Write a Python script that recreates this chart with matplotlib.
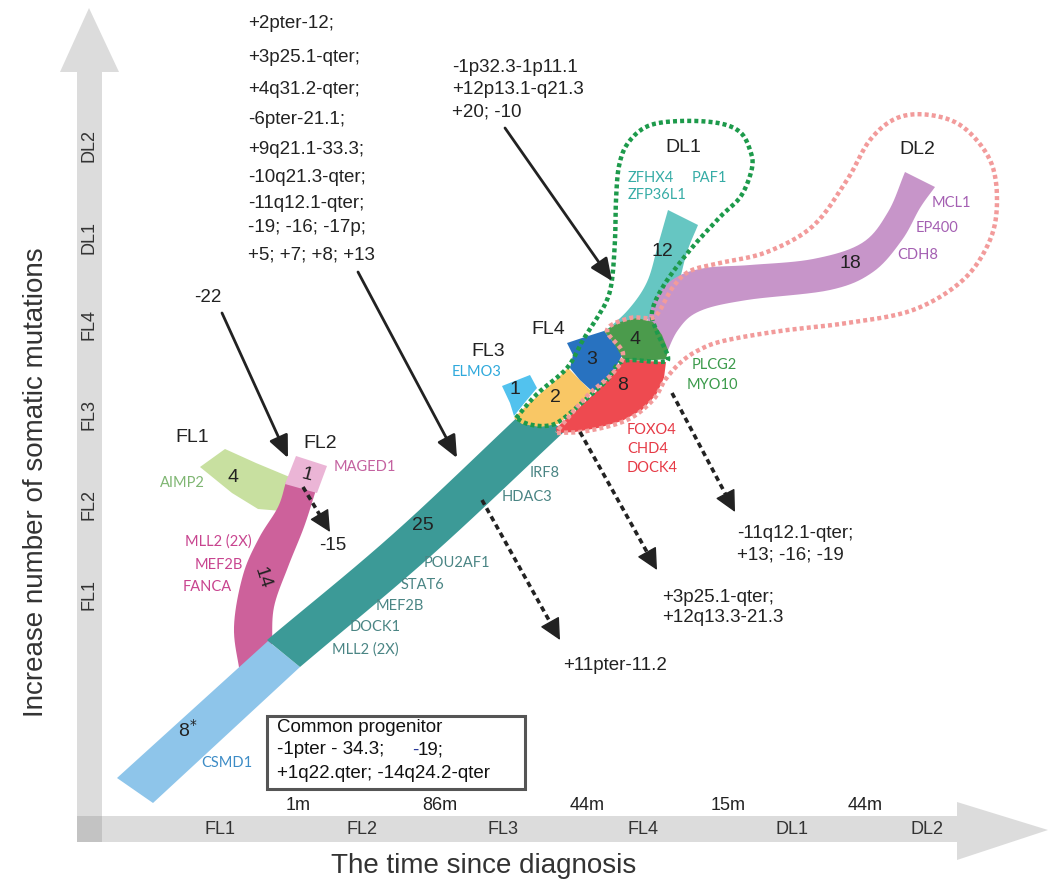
import numpy as np
import matplotlib.pyplot as plt
from matplotlib.patches import Polygon, Rectangle

plt.rcParams['font.family'] = ['Liberation Sans', 'DejaVu Sans']

# biopsy stages and the months between them
stages = ['FL1', 'FL2', 'FL3', 'FL4', 'DL1', 'DL2']
intervals = ['1m', '86m', '44m', '15m', '44m']

# private somatic mutations per branch
n_root = '8$^{*}$'
n_fl1 = '4'
n_fl2_root = '14'
n_fl2 = '1'
n_shared = '25'
n_fl3 = '1'
n_fl34 = '2'
n_fl4 = '3'
n_dl = '4'
n_dl_red = '8'
n_dl1 = '12'
n_dl2 = '18'

# mutated genes per branch
genes_root = ['CSMD1']
genes_fl1 = ['AIMP2']
genes_fl2_root = ['MLL2 (2X)', 'MEF2B', 'FANCA']
genes_fl2 = ['MAGED1']
genes_shared = ['POU2AF1', 'STAT6', 'MEF2B', 'DOCK1', 'MLL2 (2X)']
genes_late = ['IRF8', 'HDAC3']
genes_fl3 = ['ELMO3']
genes_dl = ['PLCG2', 'MYO10']
genes_dl_red = ['FOXO4', 'CHD4', 'DOCK4']
genes_dl1 = ['ZFHX4', 'PAF1', 'ZFP36L1']
genes_dl2 = ['MCL1', 'EP400', 'CDH8']

# copy-number changes
cna_progenitor = ['Common progenitor', '-1pter - 34.3;', '-', '19;', '+1q22.qter; -14q24.2-qter']
cna_fl2 = '-22'
cna_fl2_loss = '-15'
cna_shared = ['+2pter-12;', '+3p25.1-qter;', '+4q31.2-qter;', '-6pter-21.1;',
              '+9q21.1-33.3;', '-10q21.3-qter;', '-11q12.1-qter;',
              '-19; -16; -17p;', '+5; +7; +8; +13']
cna_dl1 = ['-1p32.3-1p11.1', '+12p13.1-q21.3', '+20; -10']
cna_late = ['+11pter-11.2']
cna_dl_red = ['+3p25.1-qter;', '+12q13.3-21.3']
cna_dl = ['-11q12.1-qter;', '+13; -16; -19']


def smooth(pts, n=10):
    # Catmull-Rom through the given points, open curve
    p = np.asarray(pts, float)
    p = np.vstack([2 * p[0] - p[1], p, 2 * p[-1] - p[-2]])
    out = []
    for i in range(1, len(p) - 2):
        p0, p1, p2, p3 = p[i - 1], p[i], p[i + 1], p[i + 2]
        for t in np.linspace(0, 1, n, endpoint=False):
            out.append(0.5 * (2 * p1 + (-p0 + p2) * t
                              + (2 * p0 - 5 * p1 + 4 * p2 - p3) * t * t
                              + (-p0 + 3 * p1 - 3 * p2 + p3) * t ** 3))
    out.append(p[-2])
    return np.array(out)


def ribbon(left, right, color, z):
    poly = np.vstack([smooth(left), smooth(right)[::-1]])
    ax.add_patch(Polygon(poly, closed=True, fc=color, ec='none', zorder=z))


def patch(pts, color, z):
    ax.add_patch(Polygon(pts, closed=True, fc=color, ec='none', zorder=z))


def dotted(pts, color):
    c = smooth(pts, n=8)
    ax.plot(c[:, 0], c[:, 1], color=color, lw=3.2, ls=(0, (0.9, 0.7)),
            solid_capstyle='butt', zorder=7)


def arrow(start, tip, dashed=False):
    start, tip = np.array(start, float), np.array(tip, float)
    u = (tip - start) / np.hypot(*(tip - start))
    if dashed:
        end = tip - u * 14
        ax.plot([start[0], end[0]], [start[1], end[1]], color='#222222', lw=2.6,
                ls=(0, (1.5, 1.1)), zorder=8)
        ax.annotate('', xy=tip, xytext=tip - u * 16,
                    arrowprops=dict(arrowstyle='-|>,head_length=0.9,head_width=0.45',
                                    mutation_scale=15, color='#222222', lw=1,
                                    shrinkA=0, shrinkB=0), zorder=8)
    else:
        ax.annotate('', xy=tip, xytext=start,
                    arrowprops=dict(arrowstyle='-|>,head_length=0.9,head_width=0.4',
                                    mutation_scale=15, color='#222222', lw=2,
                                    shrinkA=0, shrinkB=0), zorder=8)


fig = plt.figure(figsize=(10.52, 8.89), dpi=100)
ax = fig.add_axes([0, 0, 1, 1])
ax.set_xlim(0, 1052)
ax.set_ylim(889, 0)
ax.axis('off')

# axis arrows
axis_grey = '#dcdcdc'
ax.add_patch(Rectangle((77, 70), 25, 772, fc=axis_grey, ec='none', zorder=1))
patch([(60, 72), (119, 72), (89, 8)], axis_grey, 1)
ax.add_patch(Rectangle((77, 816), 880, 26, fc=axis_grey, ec='none', zorder=1))
patch([(957, 802), (957, 860), (1048, 830)], axis_grey, 1)
ax.add_patch(Rectangle((77, 816), 25, 26, fc='#c3c3c3', ec='none', zorder=1))

stage_x = [220, 362, 503, 643, 792, 927]
for s, x in zip(stages, stage_x):
    ax.text(x, 830, s, ha='center', va='center', fontsize=13, color='#333333', zorder=2)
interval_x = [298, 440, 587, 728, 865]
for s, x in zip(intervals, interval_x):
    ax.text(x, 806, s, ha='center', va='center', fontsize=13, color='#222222', zorder=2)
stage_y = [595, 505, 415, 325, 237, 145]
for s, y in zip(stages, stage_y):
    ax.text(89, y, s, ha='center', va='center', rotation=90, fontsize=13,
            color='#333333', zorder=2)

ax.text(484, 866, 'The time since diagnosis', ha='center', va='center',
        fontsize=20, color='#333333')
ax.text(36, 482, 'Increase number of somatic mutations', ha='center', va='center',
        rotation=90, fontsize=20, color='#333333')

# FL1 / FL2 branch
patch([(200, 467), (225, 449), (256, 463), (292, 478), (282, 511), (258, 509), (232, 493)],
      '#c8e0a0', 2)
ribbon([(240, 674), (234, 627), (243, 575), (259, 538), (278, 507), (286, 482)],
       [(272, 645), (274, 607), (288, 567), (304, 527), (316, 490)], '#cd619b', 3)
patch([(296, 456), (327, 466), (317, 493), (285, 484)], '#ebb5d6', 3)

# common trunk and the FL3 / FL4 / DL lineage
patch([(117, 778), (268, 641), (300, 667), (153, 803)], '#8ec5ea', 4)
ribbon([(267, 640), (393, 534), (525, 410)], [(300, 667), (432, 555), (566, 430)],
       '#3c9a97', 4)
ribbon([(603, 333), (628, 310), (647, 282), (658, 245), (668, 210)],
       [(640, 322), (660, 313), (677, 287), (687, 252), (698, 225)], '#66c6c2', 3)
ribbon([(645, 330), (655, 300), (675, 278), (705, 268), (750, 265), (813, 259),
        (862, 243), (888, 212), (905, 172)],
       [(663, 362), (678, 330), (700, 311), (747, 300), (830, 290), (873, 272),
        (902, 240), (920, 208), (935, 187)], '#c795c9', 3)
patch([(502, 386), (530, 375), (537, 388), (526, 401), (514, 416), (510, 403)], '#52c2ee', 3)
patch([(514, 418), (525, 407), (540, 394), (556, 380), (568, 368), (580, 380), (592, 392),
       (575, 410), (558, 424), (540, 427), (522, 424)], '#f9c765', 5)
patch([(567, 343), (585, 337), (604, 331), (614, 343), (623, 354), (612, 374), (602, 384),
       (593, 392), (580, 380), (570, 368), (573, 355)], '#2872c0', 5)
patch([(623, 359), (645, 361), (666, 362), (664, 378), (656, 395), (642, 410), (622, 421),
       (598, 428), (575, 432), (557, 433), (556, 428), (570, 416), (585, 402), (598, 390),
       (612, 375)], '#ee4a50', 5)
patch([(604, 331), (620, 322), (637, 318), (653, 322), (662, 335), (668, 350), (666, 359),
       (645, 361), (623, 359), (614, 343)], '#4b9b4c', 6)

# DL1 and DL2 clone envelopes
dotted([(516, 418), (537, 394), (567, 368), (583, 340), (597, 318), (607, 300), (612, 280),
        (615, 240), (616, 200), (619, 166), (628, 143), (648, 126), (680, 121), (718, 123),
        (740, 132), (750, 150), (752, 168), (741, 196), (720, 217), (690, 250), (664, 285),
        (652, 312), (657, 332), (668, 357), (660, 362), (623, 361), (607, 380), (585, 400),
        (560, 421), (545, 426), (528, 424), (516, 418)], '#1d9a4b')
dotted([(557, 433), (587, 431), (627, 420), (653, 400), (665, 380), (680, 363), (697, 351),
        (723, 341), (780, 331), (847, 323), (913, 310), (963, 280), (990, 240), (997, 200),
        (990, 160), (963, 127), (930, 115), (897, 118), (870, 140), (847, 180), (813, 226),
        (767, 252), (720, 263), (690, 271), (673, 287), (660, 310), (652, 318), (630, 318),
        (607, 330), (623, 353), (613, 373), (588, 395), (562, 425), (557, 433)], '#f29b9b')

# branch sizes
num_kw = dict(ha='center', va='center', fontsize=14, color='#222222', zorder=9)
ax.text(188, 730, n_root, **num_kw)
ax.text(233, 477, n_fl1, **num_kw)
ax.text(262, 578, n_fl2_root, rotation=-72, **num_kw)
ax.text(307, 475, n_fl2, rotation=-15, **num_kw)
ax.text(423, 525, n_shared, **num_kw)
ax.text(515, 390, n_fl3, **num_kw)
ax.text(555, 397, n_fl34, **num_kw)
ax.text(592, 360, n_fl4, **num_kw)
ax.text(635, 340, n_dl, **num_kw)
ax.text(623, 385, n_dl_red, **num_kw)
ax.text(662, 252, n_dl1, **num_kw)
ax.text(850, 263, n_dl2, **num_kw)

# sample names
lab_kw = dict(ha='center', va='center', fontsize=14, color='#222222', zorder=9)
ax.text(192, 437, stages[0], **lab_kw)
ax.text(320, 443, stages[1], **lab_kw)
ax.text(488, 352, stages[2], **lab_kw)
ax.text(548, 330, stages[3], **lab_kw)
ax.text(683, 147, stages[4], **lab_kw)
ax.text(917, 150, stages[5], **lab_kw)

# gene names
gene_font = ['Lato', 'DejaVu Sans']


def gene(x, y, name, color, ha='center'):
    ax.text(x, y, name, ha=ha, va='center', fontsize=10.5, color=color,
            family=gene_font, zorder=9)


gene(227, 763, genes_root[0], '#3d8cc6')
gene(182, 483, genes_fl1[0], '#7fb672')
for g, (x, y) in zip(genes_fl2_root, [(252, 542), (243, 565), (232, 587)]):
    gene(x, y, g, '#c8448f', ha='right')
gene(365, 467, genes_fl2[0], '#c462a0')
for g, (x, y) in zip(genes_shared, [(457, 563), (422, 585), (400, 606), (375, 627), (365, 650)]):
    gene(x, y, g, '#4a8584')
for g, (x, y) in zip(genes_late, [(545, 473), (527, 497)]):
    gene(x, y, g, '#4a8584')
gene(477, 372, genes_fl3[0], '#2fa9dc')
for g, (x, y) in zip(genes_dl, [(714, 365), (712, 385)]):
    gene(x, y, g, '#3a9a4a')
for g, (x, y) in zip(genes_dl_red, [(627, 430), (627, 449), (627, 468)]):
    gene(x, y, g, '#e63a46', ha='left')
for g, (x, y) in zip(genes_dl1, [(628, 178), (692, 178), (628, 195)]):
    gene(x, y, g, '#36aca6', ha='left')
for g, (x, y) in zip(genes_dl2, [(951, 203), (937, 228), (918, 255)]):
    gene(x, y, g, '#a45fb2')

# copy-number annotations
cn_kw = dict(ha='left', va='center', fontsize=13.5, color='#222222', zorder=9)
for t, y in zip(cna_shared, [24, 58, 89, 119, 149, 178, 204, 227, 255]):
    ax.text(248, y, t, **cn_kw)
for i, t in enumerate(cna_dl1):
    ax.text(452, 68 + i * 22, t, **cn_kw)
ax.text(208, 297, cna_fl2, ha='center', va='center', fontsize=13.5, color='#222222')
ax.text(333, 545, cna_fl2_loss, ha='center', va='center', fontsize=13.5, color='#222222')
ax.text(563, 665, cna_late[0], **cn_kw)
for i, t in enumerate(cna_dl_red):
    ax.text(662, 597 + i * 21, t, **cn_kw)
for i, t in enumerate(cna_dl):
    ax.text(737, 533 + i * 22, t, **cn_kw)

arrow((222, 313), (288, 458))
arrow((358, 272), (457, 458))
arrow((505, 128), (612, 281))
arrow((303, 487), (330, 532), dashed=True)
arrow((482, 500), (560, 640), dashed=True)
arrow((580, 432), (657, 570), dashed=True)
arrow((672, 393), (735, 512), dashed=True)

# common progenitor box
ax.add_patch(Rectangle((267, 716), 258, 73, fc='white', ec='#555555', lw=2.2, zorder=8))
box_kw = dict(ha='left', va='center', fontsize=13.5, color='#111111', zorder=9)
ax.text(277, 728, cna_progenitor[0], **box_kw)
ax.text(277, 750, cna_progenitor[1], **box_kw)
ax.text(412, 750, cna_progenitor[2], ha='left', va='center', fontsize=13.5,
        color='#2a3a9a', zorder=9)
ax.text(418, 750, cna_progenitor[3], **box_kw)
ax.text(277, 773, cna_progenitor[4], **box_kw)

fig.savefig('out.png', dpi=100)
